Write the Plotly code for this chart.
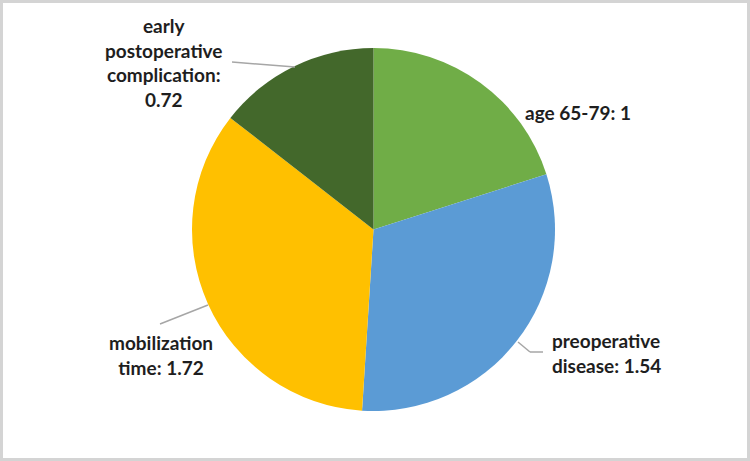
import plotly.graph_objects as go

W, H = 750, 461

labels = ["age 65-79", "preoperative disease", "mobilization time", "early postoperative complication"]
values = [1, 1.54, 1.72, 0.72]
colors = ["#70AD47", "#5B9BD5", "#FFC000", "#43682B"]
label_texts = ["age 65-79: 1", "preoperative<br>disease: 1.54", "mobilization<br>time: 1.72",
               "early<br>postoperative<br>complication:<br>0.72"]

def px(x):
    return x / W

def py(y):
    return 1 - y / H

fig = go.Figure(go.Pie(
    labels=labels, values=values, sort=False, direction="clockwise", rotation=0,
    marker=dict(colors=colors, line=dict(width=0)),
    textinfo="none", showlegend=False,
    domain=dict(x=[px(373.5 - 181.5), px(373.5 + 181.5)], y=[py(411), py(48)]),
))

font = dict(family="Lato", size=19, color="#1e1e1e")
ann_specs = [
    (0, 523, 113, "left", "left"),
    (1, 550, 353, "left", "left"),
    (2, 161, 355, "center", "center"),
    (3, 163, 62, "center", "center"),
]
for i, x, y, xa, al in ann_specs:
    fig.add_annotation(text="<b>" + label_texts[i].replace("<br>", "</b><br><b>") + "</b>",
                       x=px(x), y=py(y), xref="paper", yref="paper",
                       xanchor=xa, yanchor="middle", align=al, showarrow=False, font=font)

line_style = dict(color="#a6a6a6", width=1.5)
for (x0, y0, x1, y1) in [(232, 62, 295, 67), (518, 342, 530, 352), (530, 352, 543, 352), (160, 324, 208, 305)]:
    fig.add_shape(type="line", xref="paper", yref="paper",
                  x0=px(x0), y0=py(y0), x1=px(x1), y1=py(y1), line=line_style)

fig.add_shape(type="rect", xref="paper", yref="paper",
              x0=px(1.5), y0=py(459.5), x1=px(748.5), y1=py(1.5),
              line=dict(color="#d4d4d4", width=3))

fig.update_layout(width=W, height=H, margin=dict(l=0, r=0, t=0, b=0),
                  paper_bgcolor="white", plot_bgcolor="white")
fig.write_html("out.html")
